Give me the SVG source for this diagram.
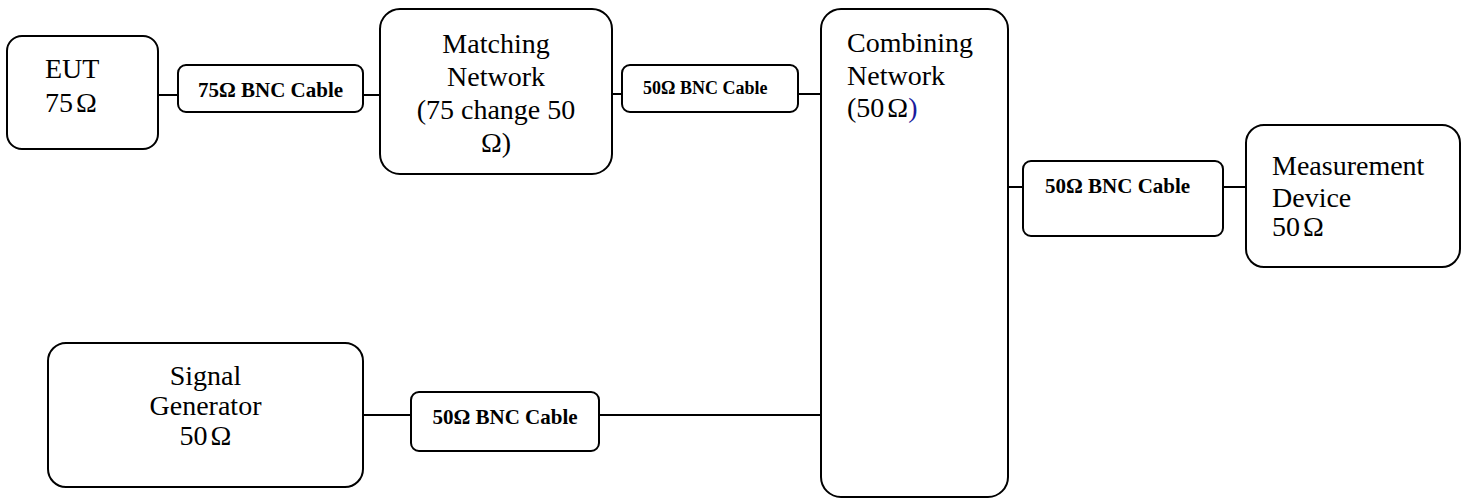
<svg xmlns="http://www.w3.org/2000/svg" width="1462" height="499" viewBox="0 0 1462 499">
<style>
.box{fill:#fff;stroke:#000;stroke-width:2}
.wire{fill:none;stroke:#000;stroke-width:2}
.t{font-family:"Liberation Serif","Times New Roman",serif;font-size:28px;fill:#000}
.c{text-anchor:middle}
.cb{font-family:"Liberation Serif","Times New Roman",serif;font-weight:bold;font-size:21px;fill:#000}
</style>
<rect width="1462" height="499" fill="#fff"/>
<g id="connectors">
<line class="wire" x1="158" y1="95" x2="178" y2="95"/>
<line class="wire" x1="363" y1="95" x2="380" y2="95"/>
<line class="wire" x1="612" y1="94" x2="622" y2="94"/>
<line class="wire" x1="798" y1="94" x2="821" y2="94"/>
<line class="wire" x1="1008" y1="187" x2="1023" y2="187"/>
<line class="wire" x1="1223" y1="187" x2="1246" y2="187"/>
<line class="wire" x1="363" y1="415" x2="411" y2="415"/>
<line class="wire" x1="599" y1="415" x2="821" y2="415"/>
</g>
<g id="eut">
<rect class="box" x="7" y="36" width="151" height="113" rx="15"/>
<text class="t" x="45" y="78">EUT</text>
<text class="t" x="45" y="112">75<tspan dx="3">Ω</tspan></text>
</g>
<g id="cable1">
<rect class="box" x="178" y="65" width="185" height="47" rx="8"/>
<text class="cb c" x="270.5" y="97">75Ω BNC Cable</text>
</g>
<g id="matching">
<rect class="box" x="380" y="9" width="232" height="165" rx="20"/>
<text class="t c" x="496" y="53">Matching</text>
<text class="t c" x="496" y="86">Network</text>
<text class="t c" x="496" y="119">(75 change 50</text>
<text class="t c" x="496" y="152">Ω)</text>
</g>
<g id="cable2">
<rect class="box" x="622" y="65" width="176" height="47" rx="8"/>
<text class="cb" style="font-size:18px" x="643" y="94">50Ω BNC Cable</text>
</g>
<g id="combining">
<rect class="box" x="821" y="9" width="187" height="488" rx="20"/>
<text class="t" x="847" y="52">Combining</text>
<text class="t" x="847" y="85">Network</text>
<text class="t" x="847" y="117">(50<tspan dx="3">Ω</tspan><tspan fill="#1c1c9c">)</tspan></text>
</g>
<g id="cable3">
<rect class="box" x="1023" y="161" width="200" height="75" rx="8"/>
<text class="cb" x="1045" y="193">50Ω BNC Cable</text>
</g>
<g id="measurement">
<rect class="box" x="1246" y="125" width="214" height="142" rx="18"/>
<text class="t" x="1272" y="175">Measurement</text>
<text class="t" x="1272" y="207">Device</text>
<text class="t" x="1272" y="236">50<tspan dx="3">Ω</tspan></text>
</g>
<g id="signal">
<rect class="box" x="48" y="343" width="315" height="144" rx="18"/>
<text class="t c" x="205.5" y="385">Signal</text>
<text class="t c" x="205.5" y="415">Generator</text>
<text class="t c" x="205.5" y="445">50<tspan dx="3">Ω</tspan></text>
</g>
<g id="cable4">
<rect class="box" x="411" y="392" width="188" height="59" rx="8"/>
<text class="cb c" x="505" y="424">50Ω BNC Cable</text>
</g>
</svg>
